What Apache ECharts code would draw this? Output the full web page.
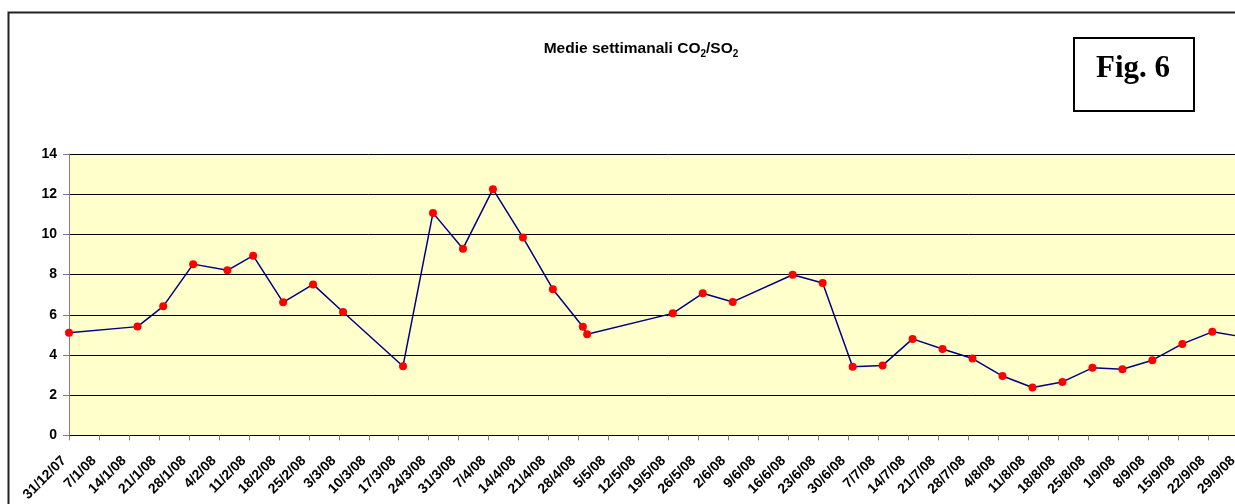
<!DOCTYPE html>
<html>
<head>
<meta charset="utf-8">
<script src="https://cdn.jsdelivr.net/npm/echarts@6/dist/echarts.min.js"></script>
<style>
  html, body { margin: 0; padding: 0; background: #fff; overflow: hidden; }
  #chart1 { width: 1300px; height: 504px; }
</style>
</head>
<body>
<div id="chart1"></div>
<script>
// weekly averages CO2/SO2 (dates)
const dates = [
    '2007-12-31', '2008-01-16', '2008-01-22', '2008-01-29', '2008-02-06', '2008-02-12',
    '2008-02-19', '2008-02-26', '2008-03-04', '2008-03-18', '2008-03-25', '2008-04-01',
    '2008-04-08', '2008-04-15', '2008-04-22', '2008-04-29', '2008-04-30', '2008-05-20',
    '2008-05-27', '2008-06-03', '2008-06-17', '2008-06-24', '2008-07-01', '2008-07-08',
    '2008-07-15', '2008-07-22', '2008-07-29', '2008-08-05', '2008-08-12', '2008-08-19',
    '2008-08-26', '2008-09-02', '2008-09-09', '2008-09-16', '2008-09-23', '2008-09-30'
];
const ratios = [
    5.10, 5.41, 6.42, 8.52, 8.21, 8.94,
    6.62, 7.51, 6.14, 3.44, 11.07, 9.29,
    12.25, 9.85, 7.27, 5.40, 5.03, 6.07,
    7.07, 6.64, 7.99, 7.58, 3.41, 3.48,
    4.80, 4.30, 3.82, 2.95, 2.38, 2.66,
    3.36, 3.29, 3.74, 4.55, 5.15, 4.90
];
const startDate = '2007-12-31';   // first tick label
const lastLabelDate = '2008-09-29';
const yTicks = [0, 2, 4, 6, 8, 10, 12, 14];

const DAY = 86400000;
const t0 = Date.parse(startDate);
const dayOf = d => Math.round((Date.parse(d) - t0) / DAY);
const lastDay = dayOf(lastLabelDate);

const chartDom = document.getElementById('chart1');
const myChart = echarts.init(chartDom);

const seriesData = dates.map((d, i) => [dayOf(d), ratios[i]]);

function fmtDay(v) {
    if (v > lastDay) return '';
    const dt = new Date(t0 + v * DAY);
    const yy = String(dt.getUTCFullYear() % 100).padStart(2, '0');
    return dt.getUTCDate() + '/' + (dt.getUTCMonth() + 1) + '/' + yy;
}

const option = {
    backgroundColor: '#fff',
    animation: false,
    grid: {
        left: 69,
        top: 154,
        bottom: 68,
        right: 32,
        show: true,
        backgroundColor: '#FFFFCC',
        borderWidth: 0
    },
    xAxis: {
        type: 'value',
        min: 0,
        max: 280,
        interval: 7,
        axisLine: { lineStyle: { color: '#000', width: 1 } },
        axisTick: { length: 5, lineStyle: { color: '#808080' } },
        splitLine: { show: false },
        axisLabel: {
            rotate: 45,
            margin: 28,
            verticalAlign: 'bottom',
            color: '#000',
            fontFamily: 'Liberation Sans, Arial, sans-serif',
            fontWeight: 'bold',
            fontSize: 14,
            formatter: fmtDay
        }
    },
    yAxis: {
        type: 'value',
        min: yTicks[0],
        max: yTicks[yTicks.length - 1],
        interval: 2,
        axisLine: { show: true, lineStyle: { color: '#808080' } },
        axisTick: { show: true, length: 6, lineStyle: { color: '#808080' } },
        splitLine: { lineStyle: { color: '#000', width: 1 } },
        axisLabel: {
            margin: 12,
            color: '#000',
            fontFamily: 'Liberation Sans, Arial, sans-serif',
            fontWeight: 'bold',
            fontSize: 14
        }
    },
    graphic: [
        {
            type: 'rect',
            left: 6, top: 10,
            shape: { width: 1400, height: 600 },
            style: { fill: 'none', stroke: '#222', lineWidth: 2 },
            silent: true, z: -1
        },
        {
            type: 'text',
            x: 641, y: 49,
            style: {
                text: '{a|Medie settimanali CO}{s|2}{a|/SO}{s|2}',
                align: 'center',
                verticalAlign: 'middle',
                rich: {
                    a: { fontFamily: 'Liberation Sans, Arial, sans-serif', fontWeight: 'bold', fontSize: 15.5, lineHeight: 20, fill: '#000' },
                    s: { fontFamily: 'Liberation Sans, Arial, sans-serif', fontWeight: 'bold', fontSize: 10, lineHeight: 10, verticalAlign: 'bottom', fill: '#000' }
                }
            }
        },
        {
            type: 'rect',
            left: 1073, top: 37,
            shape: { width: 120, height: 73 },
            style: { fill: '#fff', stroke: '#000', lineWidth: 2 }
        },
        {
            type: 'text',
            x: 1133, y: 69,
            style: {
                text: 'Fig. 6',
                align: 'center',
                verticalAlign: 'middle',
                fontFamily: 'Liberation Serif, Times New Roman, serif',
                fontWeight: 'bold',
                fontSize: 31,
                fill: '#000'
            }
        }
    ],
    series: [
        {
            name: 'CO2/SO2',
            type: 'line',
            data: seriesData,
            symbol: 'circle',
            symbolSize: 8,
            itemStyle: { color: '#FF0000' },
            lineStyle: { color: '#000080', width: 1.5 },
            z: 3
        }
    ]
};

myChart.setOption(option);
</script>
</body>
</html>
